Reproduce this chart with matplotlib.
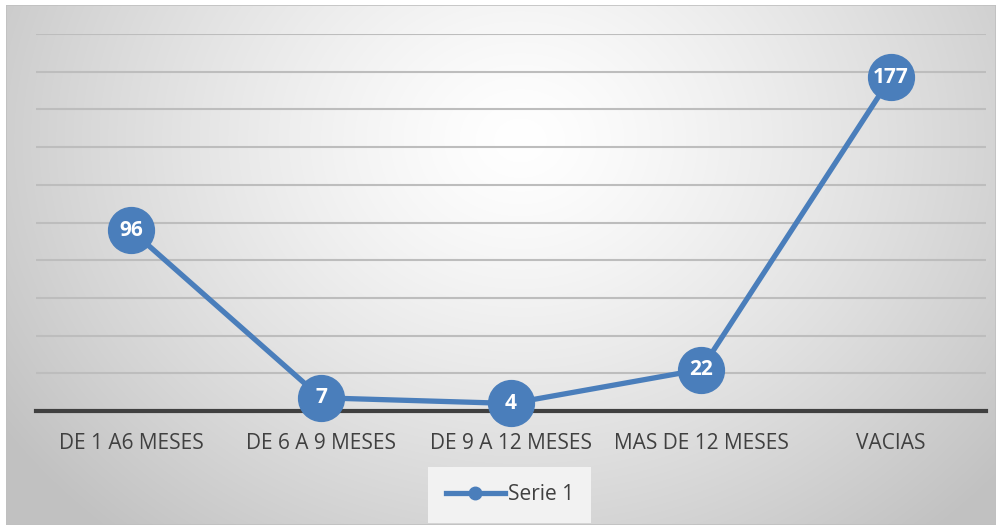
import numpy as np
import matplotlib
matplotlib.use('Agg')
import matplotlib.pyplot as plt
from matplotlib.patches import Rectangle

categories = ['DE 1 A6 MESES', 'DE 6 A 9 MESES', 'DE 9 A 12 MESES', 'MAS DE 12 MESES', 'VACIAS']
values = [96, 7, 4, 22, 177]
series_name = 'Serie 1'

plt.rcParams['font.family'] = ['Open Sans', 'DejaVu Sans']

W, H = 1001, 531
fig = plt.figure(figsize=(W / 100, H / 100), dpi=100)

# radial gradient background
bg = fig.add_axes([0, 0, 1, 1], zorder=0)
yy, xx = np.mgrid[0:H, 0:W]
r = np.sqrt(((xx - 520) / 620.0) ** 2 + ((yy - 140) / 520.0) ** 2)
shade = 1.0 - 0.24 * np.clip(r, 0, 1) ** 1.3
img = np.dstack([shade, shade, shade])
bg.imshow(img, extent=[0, W, H, 0], aspect='auto')
bg.set_xlim(0, W)
bg.set_ylim(H, 0)
bg.axis('off')
bg.add_patch(Rectangle((6, 5), 990, 520, fill=False, edgecolor='#c0c0c0', lw=1.2))
# white margins outside frame
bg.add_patch(Rectangle((0, 0), 6, H, color='white', lw=0))
bg.add_patch(Rectangle((0, 0), W, 5, color='white', lw=0))
bg.add_patch(Rectangle((996, 0), 5, H, color='white', lw=0))
bg.add_patch(Rectangle((0, 525), W, 6, color='white', lw=0))

ax = fig.add_axes([36 / W, 1 - 411 / H, 950 / W, (411 - 34) / H], zorder=1)
ax.patch.set_alpha(0)
x = np.arange(len(categories))
ax.set_xlim(-0.5, len(categories) - 0.5)
ax.set_ylim(0, 200)
ax.set_yticks(np.arange(20, 201, 20))
ax.yaxis.grid(True, color='#bdbdbd', lw=1.5)
ax.set_axisbelow(True)
for s in ['top', 'right', 'left']:
    ax.spines[s].set_visible(False)
ax.spines['bottom'].set_color('#404040')
ax.spines['bottom'].set_linewidth(3)
ax.tick_params(axis='y', left=False, labelleft=False)
ax.tick_params(axis='x', bottom=False, pad=12, labelsize=15, labelcolor='#404040')
ax.set_xticks(x)
ax.set_xticklabels(categories)

blue = '#4a7ebb'
ax.plot(x, values, color=blue, lw=3.8, marker='o', markersize=33, zorder=3, clip_on=False)
for xi, v in zip(x, values):
    ax.text(xi, v, str(v), color='white', fontsize=15, fontweight='bold', ha='center', va='center', zorder=4)

leg_h, = ax.plot([], [], color=blue, lw=3.8, marker='o', markersize=9)
leg = fig.legend([leg_h], [series_name], loc='center', bbox_to_anchor=(510 / W, 1 - 495 / H),
                 frameon=True, fontsize=15, handlelength=2.8, handletextpad=0.15, borderpad=0.55)
leg.get_frame().set_facecolor('#f2f2f2')
leg.get_frame().set_edgecolor('none')
leg.get_frame().set_alpha(1)
leg.get_frame().set_boxstyle('square')
for t in leg.get_texts():
    t.set_color('#404040')

fig.savefig('out.png', dpi=100)
